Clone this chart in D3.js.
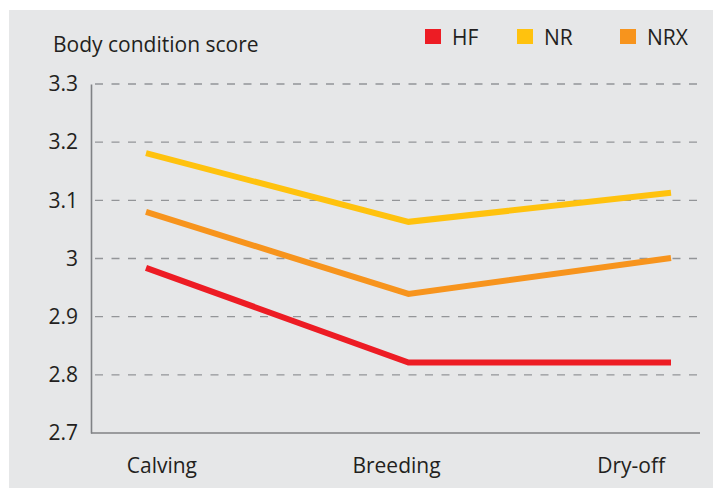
<!DOCTYPE html>
<html><head><meta charset="utf-8">
<script src="https://cdn.jsdelivr.net/npm/d3@7"></script>
<style>body{margin:0;background:#fff}svg{display:block}text{font-family:"Open Sans",sans-serif;fill:#231f20}</style>
</head><body><svg id="c" width="713" height="488"></svg>
<script>
const categories = ["Calving", "Breeding", "Dry-off"];
const seriesNames = ["HF", "NR", "NRX"];
const hfValues = [2.984, 2.821, 2.821];
const nrValues = [3.181, 3.063, 3.113];
const nrxValues = [3.080, 2.939, 3.001];
const yTicks = [2.7, 2.8, 2.9, 3.0, 3.1, 3.2, 3.3];
const yTitle = "Body condition score";
const colors = ["#ed1c24", "#ffc20e", "#f7941d"];

const series = [hfValues, nrValues, nrxValues].map((v, i) => ({name: seriesNames[i], values: v, color: colors[i]}));
const FS = 21;

const svg = d3.select("#c");
svg.append("rect").attr("x", 9).attr("y", 10).attr("width", 704).attr("height", 478).attr("fill", "#e6e7e8");

const y = d3.scaleLinear().domain([2.7, 3.3]).range([433, 84]);
const xLine = d3.scaleLinear().domain([0, categories.length - 1]).range([146, 671]);
const xLab = d3.scalePoint().domain(categories).range([91, 701]).padding(0.3);

// gridlines
svg.append("g").selectAll("line").data(yTicks.filter(t => t > 2.7)).join("line")
  .attr("x1", 95).attr("x2", 700)
  .attr("y1", d => y(d)).attr("y2", d => y(d))
  .attr("stroke", "#939598").attr("stroke-width", 1.3).attr("stroke-dasharray", "8,8.5");

// y axis
const yAxis = d3.axisLeft(y).tickValues(yTicks).tickSize(0).tickPadding(13).tickFormat(d3.format("~g"));
const gy = svg.append("g").attr("transform", "translate(91,0)").call(yAxis);
gy.select(".domain").attr("stroke", "#808285").attr("stroke-width", 1.6);
gy.selectAll("text").attr("font-size", FS).attr("font-family", "'Open Sans',sans-serif").attr("fill", "#231f20");

// x axis
const xAxis = d3.axisBottom(xLab).tickSize(0).tickPadding(25);
const gx = svg.append("g").attr("transform", "translate(0,433)").call(xAxis);
gx.select(".domain").attr("d", "M91,0H700").attr("stroke", "#808285").attr("stroke-width", 1.6);
gx.selectAll("text").attr("font-size", FS).attr("font-family", "'Open Sans',sans-serif").attr("fill", "#231f20");

// lines
const line = d3.line().x((d, i) => xLine(i)).y(d => y(d));
svg.append("g").selectAll("path").data(series).join("path")
  .attr("d", d => line(d.values)).attr("fill", "none")
  .attr("stroke", d => d.color).attr("stroke-width", 6).attr("stroke-linejoin", "miter");

// title
svg.append("text").attr("x", 53).attr("y", 52).attr("font-size", FS).text(yTitle);

// legend
const legX = [425, 517, 620];
const lg = svg.append("g").selectAll("g").data(series).join("g")
  .attr("transform", (d, i) => `translate(${legX[i]},29)`);
lg.append("rect").attr("width", 16).attr("height", 15).attr("fill", d => d.color);
lg.append("text").attr("x", 27).attr("y", 16).attr("font-size", FS).text(d => d.name);
</script></body></html>
